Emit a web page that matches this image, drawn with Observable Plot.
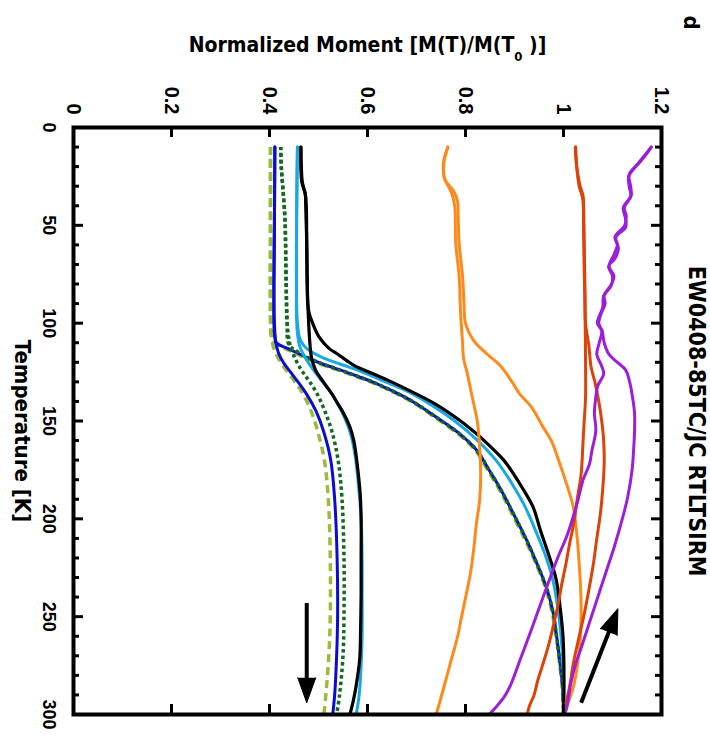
<!DOCTYPE html>
<html><head><meta charset="utf-8">
<script src="https://cdn.jsdelivr.net/npm/d3@7"></script>
<script src="https://cdn.jsdelivr.net/npm/@observablehq/plot@0.6"></script>
<style>body{margin:0;background:#fff} #chart svg{display:block}</style>
</head><body><div id="chart"></div>
<script>
// ---- Data: [Temperature K, Normalized moment] ----
const momentTicks = [0, 0.2, 0.4, 0.6, 0.8, 1, 1.2];
const momentTickLabels = ["0", "0.2", "0.4", "0.6", "0.8", "1", "1.2"];
const momentInnerTicks = [0.2, 0.4, 0.6, 0.8, 1];
const tempTicks = [0, 50, 100, 150, 200, 250, 300];
const tempInnerMajor = [50, 100, 150, 200, 250];
const tempMinor = [10,20,30,40,60,70,80,90,110,120,130,140,160,170,180,190,210,220,230,240,260,270,280,290];

const titleText = "EW0408-85TC/JC RTLTSIRM";
const panelLetter = "d";
const xLabel = "Normalized Moment [M(T)/M(T0 )]";
const yLabel = "Temperature [K]";

const blackCooling = [[300,1.0],[280,1.001],[260,0.999],[245,0.993],[231,0.985],[220,0.972],[206,0.953],[194,0.938],[185,0.918],[177,0.898],[170,0.878],[160,0.838],[155,0.815],[150,0.79],[141,0.736],[135,0.69],[129,0.64],[125,0.603],[122,0.575],[119,0.557],[116,0.54],[113,0.522],[107,0.501],[100,0.488],[95,0.481],[90,0.478],[80,0.477],[60,0.476],[40,0.474],[34,0.473],[28,0.466],[20,0.464],[10,0.464]];
const blackWarming = [[10,0.464],[20,0.465],[28,0.467],[34,0.473],[40,0.475],[60,0.476],[80,0.477],[95,0.479],[105,0.481],[112,0.483],[118,0.486],[124,0.494],[130,0.51],[136,0.527],[141,0.539],[145,0.549],[153,0.564],[160,0.572],[170,0.578],[187,0.585],[200,0.587],[220,0.587],[238,0.587],[255,0.586],[272,0.584],[285,0.577],[293,0.571],[300,0.564]];

const lightBlueCooling = [[300,1.0],[280,1.0],[260,0.995],[245,0.988],[231,0.978],[220,0.965],[206,0.943],[194,0.922],[185,0.902],[177,0.882],[170,0.862],[160,0.825],[150,0.778],[141,0.725],[135,0.683],[129,0.627],[125,0.59],[121,0.545],[118,0.512],[115,0.488],[112,0.472],[108,0.462],[100,0.457],[80,0.455],[60,0.455],[30,0.456],[10,0.457]];
const lightBlueWarming = [[10,0.457],[30,0.456],[60,0.455],[80,0.455],[95,0.455],[105,0.457],[112,0.462],[118,0.474],[124,0.49],[130,0.508],[136,0.527],[145,0.547],[153,0.561],[160,0.569],[170,0.576],[187,0.583],[200,0.587],[220,0.589],[240,0.589],[260,0.589],[275,0.587],[290,0.583],[300,0.577]];

const blueCooling = [[300,1.0],[285,0.998],[274,0.993],[260,0.986],[247,0.978],[235,0.965],[223,0.946],[211,0.925],[197,0.897],[185,0.872],[175,0.848],[165,0.823],[157,0.79],[148,0.74],[140,0.692],[133,0.637],[130,0.61],[127,0.578],[124,0.545],[121,0.51],[118,0.48],[115,0.455],[113,0.438],[110,0.414],[105,0.41],[100,0.409],[80,0.409],[50,0.41],[10,0.411]];
const blueWarming = [[10,0.411],[50,0.41],[80,0.409],[100,0.41],[110,0.413],[115,0.418],[120,0.428],[125,0.443],[130,0.458],[136,0.475],[145,0.495],[155,0.51],[170,0.525],[190,0.533],[220,0.538],[250,0.539],[270,0.537],[290,0.533],[300,0.529]];

const darkGreenCooling = [[300,1.0],[285,0.998],[274,0.993],[260,0.986],[247,0.978],[235,0.965],[223,0.946],[211,0.925],[197,0.897],[185,0.872],[175,0.848],[165,0.823],[157,0.79],[148,0.74],[140,0.692],[133,0.637],[130,0.61],[127,0.578],[124,0.545],[121,0.51],[118,0.482],[115,0.46],[113,0.447],[110,0.438],[100,0.436],[80,0.434],[50,0.432],[40,0.43],[30,0.427],[20,0.424],[10,0.423]];
const darkGreenWarming = [[10,0.423],[20,0.424],[30,0.427],[40,0.43],[50,0.432],[80,0.434],[100,0.436],[110,0.441],[115,0.447],[120,0.456],[125,0.468],[130,0.482],[136,0.497],[145,0.513],[155,0.527],[170,0.54],[190,0.548],[220,0.552],[250,0.552],[270,0.55],[290,0.543],[300,0.537]];

const yellowGreenCooling = [[300,1.0],[285,0.997],[274,0.992],[260,0.985],[247,0.976],[235,0.963],[223,0.944],[211,0.922],[197,0.894],[185,0.869],[175,0.845],[165,0.82],[157,0.787],[148,0.737],[140,0.689],[133,0.634],[130,0.606],[127,0.574],[124,0.54],[121,0.505],[118,0.475],[115,0.45],[113,0.432],[110,0.412],[107,0.404],[100,0.402],[50,0.402],[10,0.402]];
const yellowGreenWarming = [[10,0.402],[50,0.402],[80,0.402],[100,0.403],[110,0.406],[115,0.412],[120,0.423],[125,0.437],[130,0.452],[136,0.468],[145,0.485],[155,0.498],[170,0.512],[190,0.52],[220,0.524],[250,0.524],[270,0.521],[290,0.515],[300,0.511]];

const orangeCooling = [[300,1.0],[286,1.02],[274,1.029],[262,1.034],[249,1.036],[236,1.035],[223,1.032],[210,1.028],[194,1.02],[182,1.006],[170,0.99],[160,0.975],[153,0.958],[143,0.935],[136,0.91],[130,0.895],[122,0.872],[116,0.845],[109,0.817],[100,0.8],[90,0.797],[76,0.794],[59,0.787],[45,0.785],[38,0.784],[33,0.777],[26,0.757],[18,0.756],[10,0.764]];
const orangeWarming = [[10,0.764],[18,0.755],[26,0.757],[33,0.771],[40,0.778],[59,0.78],[76,0.787],[95,0.79],[110,0.794],[118,0.796],[125,0.803],[137,0.813],[150,0.824],[160,0.828],[177,0.831],[190,0.829],[203,0.822],[215,0.817],[228,0.81],[238,0.802],[250,0.792],[260,0.784],[272,0.771],[285,0.757],[295,0.746],[300,0.74]];

const redCooling = [[300,1.0],[285,1.013],[274,1.02],[260,1.032],[249,1.042],[236,1.052],[223,1.061],[210,1.068],[198,1.075],[185,1.08],[172,1.083],[160,1.082],[150,1.078],[140,1.072],[130,1.064],[122,1.056],[112,1.052],[100,1.045],[85,1.044],[70,1.043],[53,1.042],[40,1.041],[35,1.04],[30,1.034],[25,1.03],[18,1.026],[10,1.024]];
const redWarming = [[10,1.025],[20,1.027],[30,1.032],[36,1.039],[53,1.041],[70,1.042],[95,1.044],[121,1.045],[138,1.045],[151,1.042],[160,1.04],[177,1.036],[190,1.028],[201,1.022],[212,1.013],[223,1.005],[234,0.996],[245,0.988],[256,0.978],[266,0.968],[275,0.957],[283,0.947],[290,0.94],[296,0.93],[300,0.926]];

const purpleCooling = [[300,1.0],[298,1.005],[284,1.015],[274,1.025],[266,1.036],[253,1.053],[240,1.07],[227,1.087],[214,1.104],[200,1.12],[189,1.131],[175,1.14],[165,1.143],[155,1.145],[146,1.145],[138,1.141],[130,1.135],[124,1.127],[120,1.11],[116,1.093],[110,1.083],[104,1.079],[100,1.072],[95,1.077],[90,1.085],[86,1.083],[80,1.098],[76,1.103],[71,1.093],[65,1.103],[60,1.11],[56,1.105],[50,1.125],[45,1.128],[41,1.124],[35,1.138],[30,1.137],[24,1.134],[18,1.155],[14,1.168],[10,1.179]];
const purpleWarming = [[10,1.179],[15,1.163],[20,1.147],[25,1.133],[30,1.134],[35,1.137],[41,1.122],[46,1.126],[51,1.127],[56,1.107],[62,1.112],[67,1.105],[71,1.092],[76,1.1],[81,1.097],[86,1.082],[92,1.08],[97,1.072],[100,1.069],[104,1.078],[110,1.073],[116,1.068],[122,1.078],[126,1.082],[132,1.07],[140,1.065],[146,1.063],[155,1.066],[165,1.058],[172,1.053],[180,1.04],[190,1.03],[197,1.022],[208,1.008],[220,0.988],[232,0.97],[243,0.954],[257,0.934],[271,0.913],[285,0.892],[291,0.879],[296,0.863],[300,0.848]];

// arrows: tail (m1,t1) -> tip (m2,t2)
const arrowDown = {m1: 0.476, t1: 243, m2: 0.476, t2: 294};
const arrowUp = {m1: 1.036, t1: 294, m2: 1.111, t2: 246};

// ---- Styles ----
const seriesList = [
  {name: "yellowgreen", cooling: yellowGreenCooling, warming: yellowGreenWarming, color: "#9bbb3b", dash: "8,5", width: 3.5},
  {name: "blue", cooling: blueCooling, warming: blueWarming, color: "#0b0bd6", dash: null, width: 3},
  {name: "darkgreen", cooling: darkGreenCooling, warming: darkGreenWarming, color: "#156a22", dash: "3.5,3", width: 3.5},
  {name: "lightblue", cooling: lightBlueCooling, warming: lightBlueWarming, color: "#17a9e3", dash: null, width: 3},
  {name: "black", cooling: blackCooling, warming: blackWarming, color: "#000000", dash: null, width: 3.2},
  {name: "orange", cooling: orangeCooling, warming: orangeWarming, color: "#ff8a1c", dash: null, width: 3},
  {name: "red", cooling: redCooling, warming: redWarming, color: "#dc4308", dash: null, width: 3},
  {name: "purple", cooling: purpleCooling, warming: purpleWarming, color: "#9b1fd9", dash: null, width: 3}
];

const W = 710, H = 743;
const mL = 73, mR = 49, mT = 127, mB = 29;
const plotW = W - mL - mR, plotH = H - mT - mB;
const xDomain = [0, 1.2], yDomain = [0, 300];
const boldFont = "'Liberation Sans', Arial, Helvetica, sans-serif";
const narrowFont = "'DejaVu Sans Condensed', 'Liberation Sans Narrow', sans-serif";

const lineMarks = [];
for (const s of seriesList) {
  for (const branch of ["cooling", "warming"]) {
    const rows = s[branch].map(([t, m]) => ({t, m}));
    lineMarks.push(Plot.line(rows, {
      x: "m", y: "t", stroke: s.color, strokeWidth: s.width,
      strokeDasharray: s.dash ?? undefined, curve: "catmull-rom",
      strokeLinejoin: "round", strokeLinecap: s.dash ? "butt" : "round"
    }));
  }
}

// arrow marks: shaft (link) + filled head (spike vector ending at the tip)
const headLen = 25, headR = 9;
function arrowMarks(a) {
  const pxPerM = plotW / (xDomain[1] - xDomain[0]);
  const pxPerT = plotH / (yDomain[1] - yDomain[0]);
  const dxp = (a.m2 - a.m1) * pxPerM, dyp = (a.t2 - a.t1) * pxPerT;
  const len = Math.hypot(dxp, dyp);
  const angle = Math.atan2(dxp, -dyp) * 180 / Math.PI; // 0 = up, clockwise
  const f = (len - headLen + 2) / len;
  const base = {m: a.m1 + (a.m2 - a.m1) * f, t: a.t1 + (a.t2 - a.t1) * f};
  return [
    Plot.link([a], {x1: "m1", y1: "t1", x2: () => base.m, y2: () => base.t, stroke: "#000", strokeWidth: 4}),
    Plot.vector([a], {x: "m2", y: "t2", length: headLen, rotate: angle, anchor: "end", shape: "spike", r: headR, fill: "#000", stroke: "#000", strokeWidth: 1})
  ];
}

const txt = {textAnchor: "middle", lineAnchor: "middle", fill: "#000", fontWeight: "bold"};

const chart = Plot.plot({
  width: W, height: H,
  marginLeft: mL, marginRight: mR, marginTop: mT, marginBottom: mB,
  x: {domain: xDomain, axis: null},
  y: {domain: yDomain, reverse: true, axis: null},
  style: {fontFamily: boldFont, background: "#fff"},
  marks: [
    ...lineMarks,
    ...arrowMarks(arrowDown),
    ...arrowMarks(arrowUp),
    // inward ticks
    Plot.tickY(tempInnerMajor, {y: d => d, insetRight: plotW - 10, strokeWidth: 3}),
    Plot.tickY(tempMinor, {y: d => d, insetRight: plotW - 6, strokeWidth: 3}),
    Plot.tickY(tempInnerMajor, {y: d => d, insetLeft: plotW - 10, strokeWidth: 3}),
    Plot.tickY(tempMinor, {y: d => d, insetLeft: plotW - 6, strokeWidth: 3}),
    Plot.tickX(momentInnerTicks, {x: d => d, insetBottom: plotH - 10, strokeWidth: 3}),
    Plot.tickX(momentInnerTicks, {x: d => d, insetTop: plotH - 10, strokeWidth: 3}),
    Plot.frame({stroke: "#000", strokeWidth: 4}),
    // tick labels (moment labels end-aligned toward the frame)
    Plot.text(momentTicks, {...txt, textAnchor: "end", x: d => d, text: (d, i) => momentTickLabels[i], frameAnchor: "top", dy: -13, rotate: 90, fontSize: 20, fontFamily: boldFont}),
    Plot.text(tempTicks, {...txt, y: d => d, text: d => String(d), frameAnchor: "left", dx: -25, rotate: 90, fontSize: 18, fontFamily: boldFont}),
    // axis labels and title
    Plot.text([xLabel], {...txt, text: d => d, frameAnchor: "top", dy: -82, fontSize: 21, fontFamily: narrowFont}),
    Plot.text([yLabel], {...txt, text: d => d, frameAnchor: "left", dx: -51, dy: 10, rotate: 90, fontSize: 22, fontFamily: narrowFont}),
    Plot.text([titleText], {...txt, text: d => d, frameAnchor: "right", dx: 35, rotate: 90, fontSize: 23, fontFamily: narrowFont}),
    Plot.text([panelLetter], {...txt, text: d => d, frameAnchor: "top-right", dx: 30, dy: -105, rotate: 90, fontSize: 22, fontFamily: narrowFont})
  ]
});

document.getElementById("chart").appendChild(chart);

// subscript in x label
chart.querySelectorAll("text").forEach(t => {
  if (t.textContent === xLabel) {
    while (t.firstChild) t.removeChild(t.firstChild);
    const ns = "http://www.w3.org/2000/svg";
    const a = document.createElementNS(ns, "tspan"); a.textContent = "Normalized Moment [M(T)/M(T";
    const b = document.createElementNS(ns, "tspan"); b.textContent = "0"; b.setAttribute("dy", "9"); b.setAttribute("font-size", "13");
    const c = document.createElementNS(ns, "tspan"); c.textContent = "\u00a0)]"; c.setAttribute("dy", "-9");
    t.append(a, b, c);
  }
});
</script>
</body></html>
